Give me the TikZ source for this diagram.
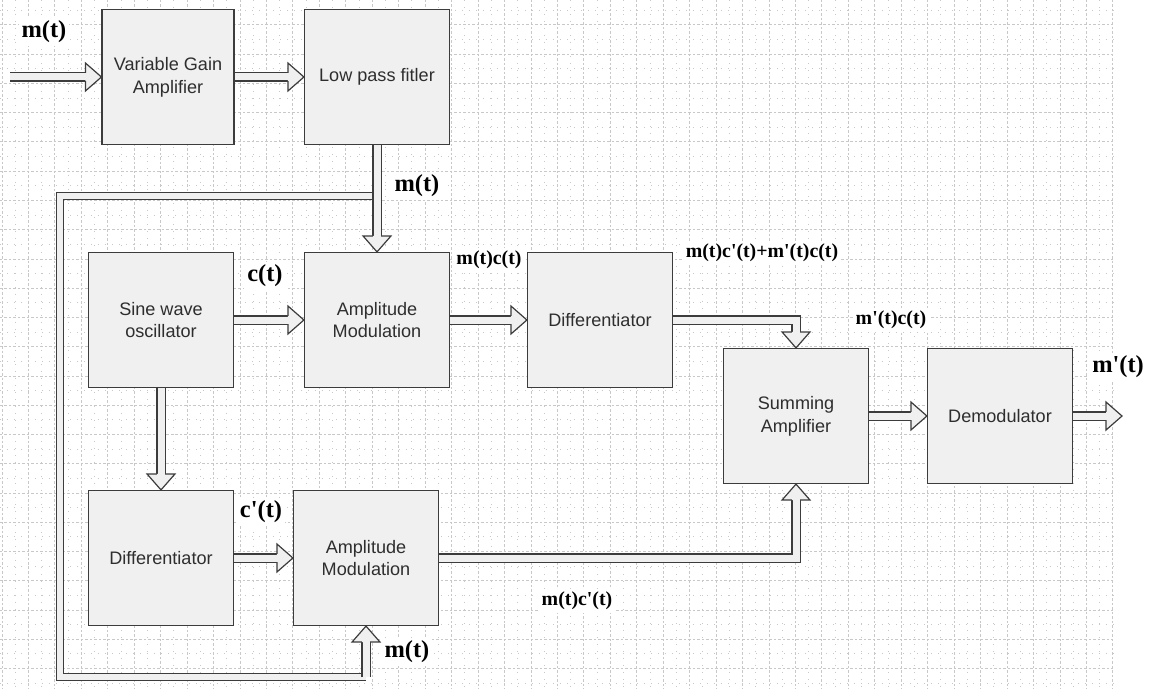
\documentclass[tikz,border=0pt]{standalone}
\usepackage{fontspec}
\setmainfont{Liberation Sans}
\newfontfamily\lblfont[Ligatures=TeXOff]{Liberation Serif}
\usetikzlibrary{decorations.markings,backgrounds}
\definecolor{boxfill}{HTML}{F0F0F0}
\definecolor{boxline}{HTML}{3C3C3C}
\definecolor{boxtext}{HTML}{2E2E2E}
\definecolor{gridc}{HTML}{C8C8C8}

\begin{document}
\begin{tikzpicture}[x=0.02cm,y=-0.02cm,
  every node/.style={font=\fontsize{10.3}{13}\selectfont},
  box/.style={draw=boxline,fill=boxfill,line width=0.24mm,minimum width=2.9cm,minimum height=2.7cm,inner sep=0pt,align=center,text=boxtext},
  lbl/.style={font=\lblfont\bfseries\fontsize{13.9}{16}\selectfont,fill=white,inner sep=0.6mm},
  lbls/.style={lbl,font=\lblfont\bfseries\fontsize{11.3}{13}\selectfont},
  shaft/.style={draw=boxline,line width=0.24mm,double=boxfill,double distance=1.4mm},
  bus/.style={shaft,double distance=1.1mm},
  blk/.style={shaft,shorten >=1.6mm,postaction={decorate},
    decoration={markings,mark=at position 1 with {\filldraw[fill=boxfill,draw=boxline,line width=0.24mm,shorten >=0pt,shorten <=0pt] (-16,4.1) -- (-16,14) -- (0,0) -- (-16,-14) -- (-16,-4.1);}}},
  gmaj/.style={gridc,line width=0.2mm,dash pattern=on 0.5mm off 0.4mm},
  gmin/.style={gridc,line width=0.2mm,dash pattern=on 0.2mm off 1.2mm}]
\useasboundingbox (0,0) rectangle (1155,689);
\node[box,minimum width=2.64cm] (vga) at (168,77) {Variable Gain\\Amplifier};
\node[box] (lpf) at (377,77) {Low pass fitler};
\node[box] (osc) at (161,320) {Sine wave\\oscillator};
\node[box] (am1) at (377,320) {Amplitude\\Modulation};
\node[box] (dif1) at (600,320) {Differentiator};
\node[box] (sum) at (796,416) {Summing\\Amplifier};
\node[box] (dem) at (1000,416) {Demodulator};
\node[box] (dif2) at (161,558) {Differentiator};
\node[box] (am2) at (366,558) {Amplitude\\Modulation};
\node[lbl] (min) at (44,32) {m(t)};
\node[lbl] (mtap) at (417,186) {m(t)};
\node[lbl] (ct) at (265,276) {c(t)};
\node[lbls] (mc) at (489,260) {m(t)c(t)};
\node[lbls] (dmc) at (762,253) {m(t)c'(t)+m'(t)c(t)};
\node[lbls] (mdc) at (891,320) {m'(t)c(t)};
\node[lbl] (mout) at (1118,367) {m'(t)};
\node[lbl] (cdt) at (261,512) {c'(t)};
\node[lbl] (mlow) at (407,652) {m(t)};
\node[lbls] (mcd) at (577,601) {m(t)c'(t)};
\coordinate (src) at (10,77);
\coordinate (out) at (1122,416);
\coordinate (tapT) at (377,196);
\coordinate (cTL) at (60,196);
\coordinate (cBL) at (60,677);
\coordinate (tapB) at (366,677);
\begin{scope}[on background layer]
\foreach \gx in {0,...,42} \draw[gmaj] (2+26.45*\gx,0) -- (2+26.45*\gx,689);
\foreach \gx in {0,...,41} \draw[gmin] (15.2+26.45*\gx,0) -- (15.2+26.45*\gx,689);
\foreach \gy in {0,...,22} \draw[gmaj] (0,25+29.25*\gy) -- (1113,25+29.25*\gy);
\foreach \gy in {0,...,23} \draw[gmin] (0,10.4+29.25*\gy) -- (1113,10.4+29.25*\gy);
\draw[bus] (tapT) -- (cTL) -- (cBL) -- (tapB);
\draw[blk] (src) -- (vga);
\draw[blk] (vga) -- (lpf);
\draw[blk] (lpf) -- (am1);
\draw[blk] (osc) -- (am1);
\draw[blk] (am1) -- (dif1);
\draw[blk] (dif1.east) -| (sum.north);
\draw[blk] (sum) -- (dem);
\draw[blk] (dem) -- (out);
\draw[blk] (osc) -- (dif2);
\draw[blk] (dif2) -- (am2);
\draw[blk] (am2.east) -| (sum.south);
\draw[blk] (tapB) -- (am2);
\end{scope}
\end{tikzpicture}
\end{document}
